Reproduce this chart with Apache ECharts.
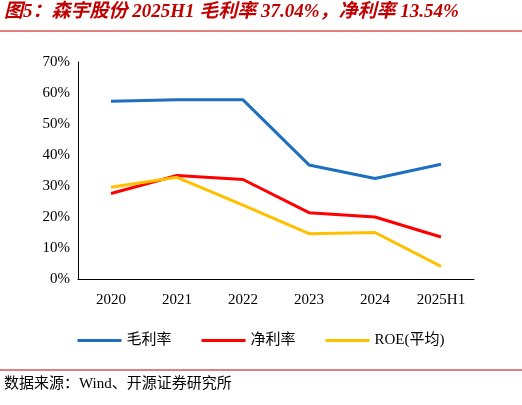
<!DOCTYPE html>
<html>
<head>
<meta charset="utf-8">
<title>chart</title>
<style>body{margin:0;background:#fff;}</style>
</head>
<body>
<div id="graph" style="width:522px;height:405px;"></div>
<script src="https://cdn.jsdelivr.net/npm/echarts@6/dist/echarts.min.js"></script>
<script>
const categories = ['2020', '2021', '2022', '2023', '2024', '2025H1'];
const grossMargin = [57.3, 57.8, 57.8, 36.8, 32.4, 37.04];
const netMargin = [27.6, 33.4, 32.1, 21.4, 20.0, 13.54];
const roe = [29.6, 32.8, 23.8, 14.6, 15.0, 4.1];

const font = '"Liberation Serif", "Noto Sans CJK SC", serif';
const chart = echarts.init(document.getElementById('graph'));
chart.setOption({
    animation: false,
    graphic: [
        {type: 'text', left: 4, top: 3, style: {text: '图5：森宇股份 2025H1 毛利率 37.04%，净利率 13.54%', fill: '#C00000', font: 'italic bold 19px "Liberation Serif", "Noto Sans CJK SC"'}},
        {type: 'line', shape: {x1: 0, y1: 31, x2: 522, y2: 31}, style: {stroke: '#C00000', lineWidth: 1}},
        {type: 'line', shape: {x1: 0, y1: 370, x2: 522, y2: 370}, style: {stroke: '#C00000', lineWidth: 1}},
        {type: 'text', left: 4, top: 377, style: {text: '数据来源：Wind、开源证券研究所', fill: '#000', font: '15px "Liberation Serif", "Noto Sans CJK SC"'}}
    ],
    legend: {
        top: 328, left: 'center', itemGap: 30, itemWidth: 44, itemHeight: 3, icon: 'rect',
        textStyle: {fontFamily: font, fontSize: 15, color: '#000'},
        data: ['毛利率', '净利率', 'ROE(平均)']
    },
    grid: {left: 78, right: 48, top: 62, bottom: 126},
    xAxis: {
        type: 'category', data: categories, boundaryGap: true,
        axisLine: {lineStyle: {color: '#000'}}, axisTick: {show: false},
        axisLabel: {fontFamily: font, fontSize: 15, color: '#000', margin: 14}
    },
    yAxis: {
        type: 'value', min: 0, max: 70, interval: 10,
        axisLine: {show: true, lineStyle: {color: '#000'}}, axisTick: {show: false},
        splitLine: {show: false},
        axisLabel: {formatter: '{value}%', fontFamily: font, fontSize: 15, color: '#000', margin: 8}
    },
    series: [
        {name: '毛利率', type: 'line', data: grossMargin, symbol: 'none', lineStyle: {color: '#1F6FBF', width: 3}, itemStyle: {color: '#1F6FBF'}},
        {name: '净利率', type: 'line', data: netMargin, symbol: 'none', lineStyle: {color: '#FF0000', width: 3}, itemStyle: {color: '#FF0000'}},
        {name: 'ROE(平均)', type: 'line', data: roe, symbol: 'none', lineStyle: {color: '#FFC000', width: 3}, itemStyle: {color: '#FFC000'}}
    ]
});
</script>
</body>
</html>
